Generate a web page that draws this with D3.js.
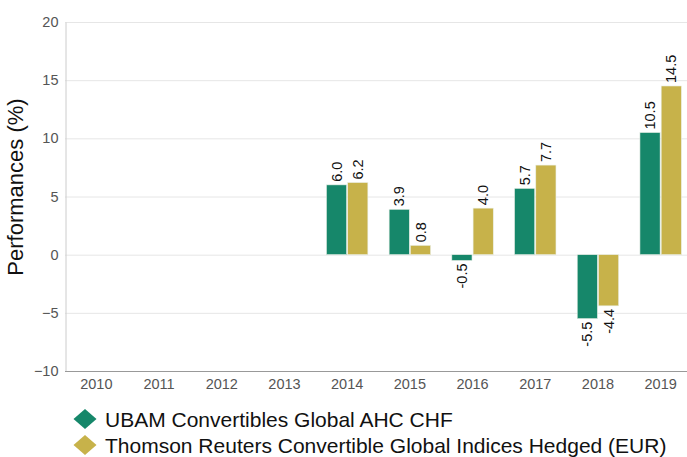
<!DOCTYPE html>
<html>
<head>
<meta charset="utf-8">
<script src="https://cdn.jsdelivr.net/npm/d3@7"></script>
<style>
  body { margin: 0; background: #fff; }
  svg { display: block; font-family: "Liberation Sans", Arial, sans-serif; }
</style>
</head>
<body>
<svg width="687" height="457"></svg>
<script>
//-- data --//
const years = ["2010", "2011", "2012", "2013", "2014", "2015", "2016", "2017", "2018", "2019"];
const fund  = [null, null, null, null, 6.0, 3.9, -0.5, 5.7, -5.5, 10.5];
const index = [null, null, null, null, 6.2, 0.8, 4.0, 7.7, -4.4, 14.5];
const seriesNames = ["UBAM Convertibles Global AHC CHF", "Thomson Reuters Convertible Global Indices Hedged (EUR)"];
const yTicks = [-10, -5, 0, 5, 10, 15, 20];

const colors = ["#16876a", "#c7b24a"];
const margin = {top: 22, right: -5, bottom: 86, left: 65};
const width = 687, height = 457;

const x = d3.scaleBand()
    .domain(years)
    .range([margin.left, width - margin.right])
    .paddingInner(0)
    .paddingOuter(0);

const x1 = d3.scaleBand()
    .domain([0, 1])
    .range([0, x.bandwidth()])
    .paddingOuter(0.5)
    .paddingInner(0.05);

const y = d3.scaleLinear()
    .domain([-10, 20])
    .range([height - margin.bottom, margin.top]);

const svg = d3.select("svg");

//-- grid --//
svg.append("g")
    .selectAll("line")
    .data(yTicks.filter(d => d !== -10))
    .join("line")
    .attr("x1", margin.left)
    .attr("x2", width)
    .attr("y1", d => y(d) + 0.5)
    .attr("y2", d => y(d) + 0.5)
    .attr("stroke", "#e6e6e6");

//-- y axis --//
svg.append("g")
    .attr("transform", `translate(${margin.left + 0.5},0)`)
    .call(d3.axisLeft(y).tickValues(yTicks).tickSize(0).tickPadding(7))
    .call(g => g.select(".domain").attr("stroke", "#ccc"))
    .call(g => g.selectAll("text").attr("fill", "#555").style("font-size", "14.5px"));

//-- x axis --//
svg.append("g")
    .attr("transform", `translate(0,${y(-10) + 0.5})`)
    .call(d3.axisBottom(x).tickSize(0).tickPadding(5).tickSizeOuter(0))
    .call(g => g.select(".domain").attr("stroke", "#999").attr("d", `M${margin.left},0H${width}`))
    .call(g => g.selectAll("text").attr("fill", "#555").style("font-size", "14.5px").attr("dy", "0.85em"));

svg.append("text")
    .attr("transform", "translate(23,187) rotate(-90)")
    .attr("text-anchor", "middle")
    .style("font-size", "22px")
    .attr("fill", "#111")
    .text("Performances (%)");

//-- bars --//
const rows = years.map((yr, i) => ({yr, vals: [fund[i], index[i]]}));

const groups = svg.append("g")
    .selectAll("g")
    .data(rows)
    .join("g")
    .attr("transform", d => `translate(${x(d.yr)},0)`);

const cells = groups.selectAll("g")
    .data(d => d.vals.map((v, k) => ({v, k})).filter(c => c.v !== null))
    .join("g");

cells.append("rect")
    .attr("x", d => x1(d.k))
    .attr("width", x1.bandwidth())
    .attr("y", d => y(Math.max(0, d.v)))
    .attr("height", d => Math.abs(y(d.v) - y(0)))
    .attr("fill", d => colors[d.k])
    .attr("stroke", "#e9efe6")
    .attr("stroke-width", 0.6);

cells.append("text")
    .attr("transform", d => {
        const cx = x1(d.k) + x1.bandwidth() / 2;
        const cy = d.v >= 0 ? y(d.v) - 3 : y(d.v) + 3;
        return `translate(${cx},${cy}) rotate(-90)`;
    })
    .attr("text-anchor", d => d.v >= 0 ? "start" : "end")
    .attr("dy", "0.35em")
    .style("font-size", "14.5px")
    .attr("fill", "#111")
    .text(d => d.v.toFixed(1));

//-- legend --//
const legend = svg.append("g")
    .selectAll("g")
    .data(seriesNames)
    .join("g")
    .attr("transform", (d, i) => `translate(85,${419 + i * 26})`);

legend.append("path")
    .attr("d", d3.symbol(d3.symbolDiamond2, 255))
    .attr("transform", "scale(1.15,1)")
    .attr("fill", (d, i) => colors[i]);

legend.append("text")
    .attr("x", 20)
    .attr("dy", "0.36em")
    .style("font-size", "21px")
    .attr("fill", "#111")
    .text(d => d);
</script>
</body>
</html>
